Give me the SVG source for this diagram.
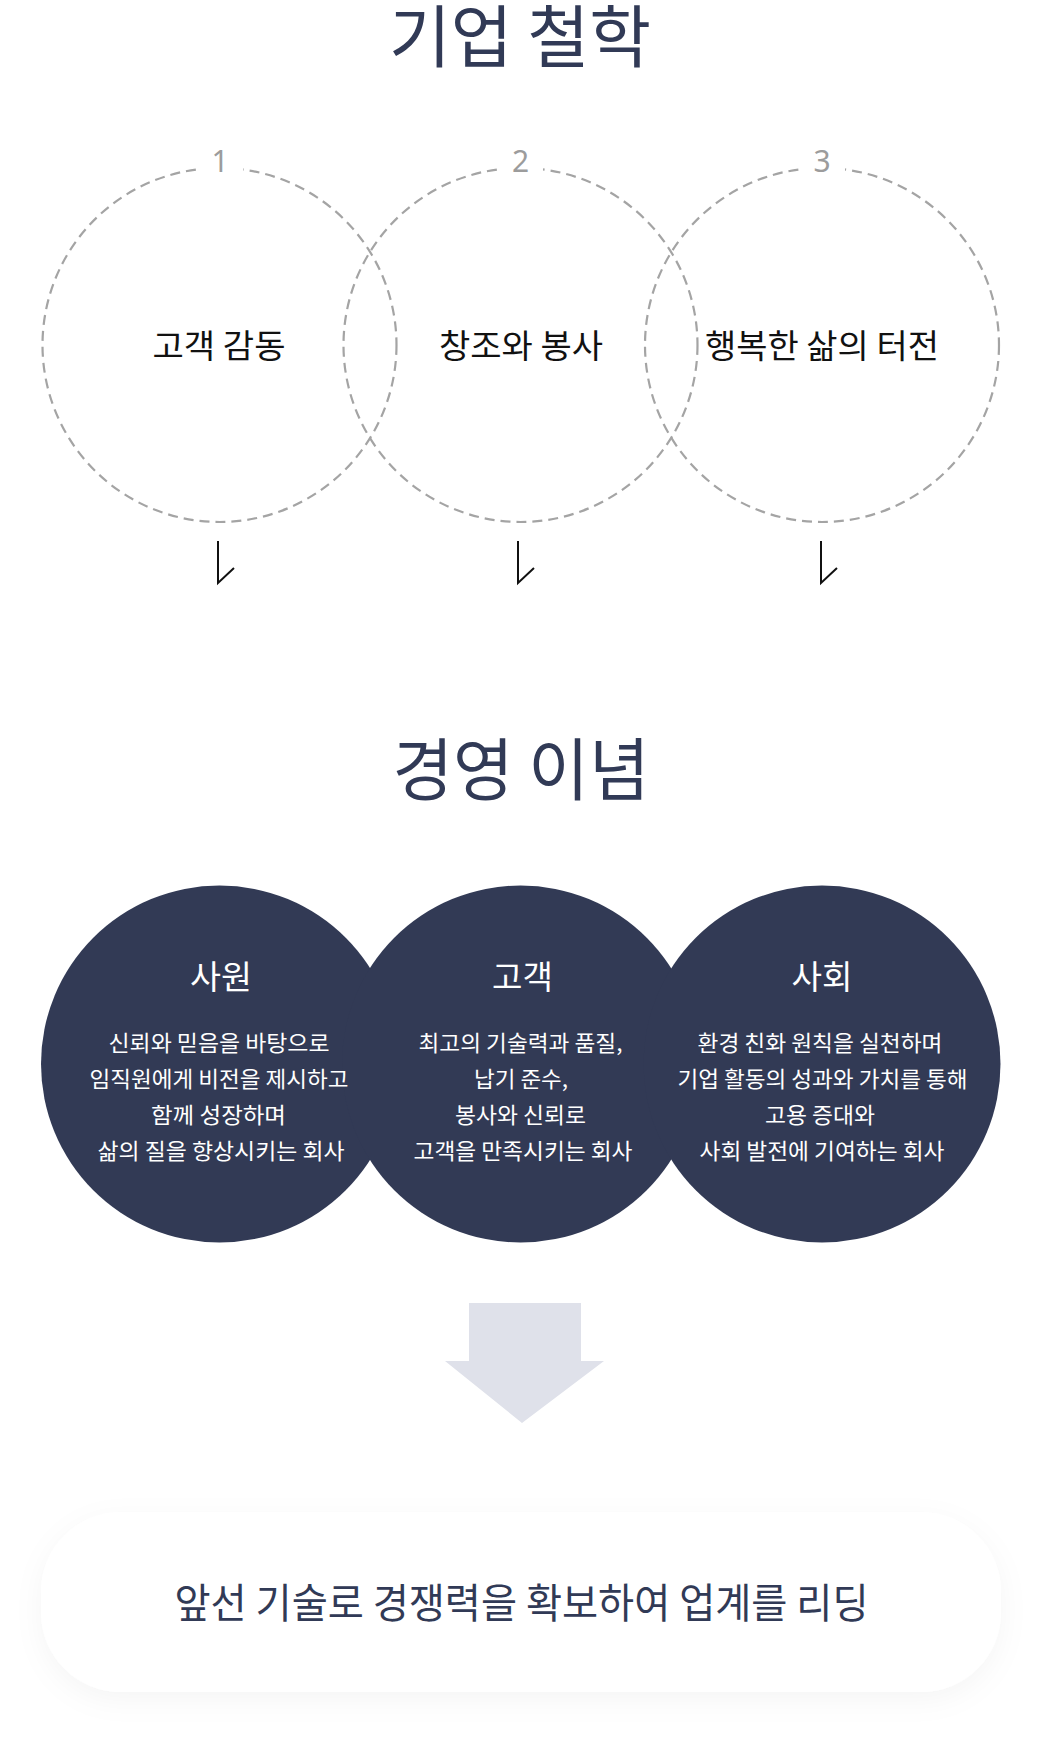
<svg xmlns="http://www.w3.org/2000/svg" width="1054" height="1756" viewBox="0 0 1054 1756">
  <style>
    text { font-family: "Noto Sans CJK KR", "Noto Sans", sans-serif; font-weight: 400; text-anchor: middle; }
    .title { font-size: 68px; fill: #313a56; }
    .dash { fill: none; stroke: #a4a4a4; stroke-width: 2.2; stroke-dasharray: 10 6; }
    .num { font-family: "Noto Sans", sans-serif; font-size: 30px; fill: #9c9c9c; }
    .lab { font-size: 33px; fill: #111111; }
    .navy { fill: #323a55; }
    .ctitle { font-size: 33px; fill: #ffffff; }
    .body { font-size: 22px; fill: #ffffff; }
    .bigarrow { fill: #dfe1ea; }
    .tick { fill: none; stroke: #111111; stroke-width: 2; }
    .mission { font-size: 41px; fill: #313a56; }
  </style>
  <defs>
    <filter id="soft" x="-10%" y="-40%" width="120%" height="180%">
      <feDropShadow dx="0" dy="8" stdDeviation="14" flood-color="#000000" flood-opacity="0.04"/>
    </filter>
  </defs>
  <rect width="1054" height="1756" fill="#ffffff"/>

  <g id="title-philosophy">
    <text class="title" x="520" y="62" textLength="262" lengthAdjust="spacingAndGlyphs">기업 철학</text>
  </g>

  <g id="node-p1">
    <circle class="dash" cx="219.5" cy="345" r="177"/>
    <rect x="198" y="148" width="45" height="30" fill="#ffffff"/>
    <text class="num" x="220" y="172">1</text>
    <text class="lab" x="219" y="358" textLength="133" lengthAdjust="spacingAndGlyphs">고객 감동</text>
  </g>
  <g id="node-p2">
    <circle class="dash" cx="520.5" cy="345" r="177"/>
    <rect x="498" y="148" width="45" height="30" fill="#ffffff"/>
    <text class="num" x="520.5" y="172">2</text>
    <text class="lab" x="521" y="358" textLength="164" lengthAdjust="spacingAndGlyphs">창조와 봉사</text>
  </g>
  <g id="node-p3">
    <circle class="dash" cx="822" cy="345" r="177"/>
    <rect x="800" y="148" width="45" height="30" fill="#ffffff"/>
    <text class="num" x="822" y="172">3</text>
    <text class="lab" x="822" y="358" textLength="234" lengthAdjust="spacingAndGlyphs">행복한 삶의 터전</text>
  </g>

  <g id="title-management">
    <text class="title" x="521" y="795" textLength="257" lengthAdjust="spacingAndGlyphs">경영 이념</text>
  </g>

  <g id="node-m1">
    <circle class="navy" cx="219.5" cy="1064" r="178.5"/>
  </g>
  <g id="node-m2">
    <circle class="navy" cx="520.5" cy="1064" r="178.5"/>
  </g>
  <g id="node-m3">
    <circle class="navy" cx="822" cy="1064" r="178.5"/>
  </g>
  <g id="labels-m1">
    <text class="ctitle" x="221" y="989" textLength="62" lengthAdjust="spacingAndGlyphs">사원</text>
    <text class="body" x="219" y="1051" textLength="221" lengthAdjust="spacingAndGlyphs">신뢰와 믿음을 바탕으로</text>
    <text class="body" x="219" y="1087" textLength="259" lengthAdjust="spacingAndGlyphs">임직원에게 비전을 제시하고</text>
    <text class="body" x="218.5" y="1123" textLength="135" lengthAdjust="spacingAndGlyphs">함께 성장하며</text>
    <text class="body" x="221" y="1159" textLength="247" lengthAdjust="spacingAndGlyphs">삶의 질을 향상시키는 회사</text>
  </g>
  <g id="labels-m2">
    <text class="ctitle" x="522.5" y="989" textLength="61" lengthAdjust="spacingAndGlyphs">고객</text>
    <text class="body" x="520.5" y="1051" textLength="204" lengthAdjust="spacingAndGlyphs">최고의 기술력과 품질,</text>
    <text class="body" x="521" y="1087" textLength="94" lengthAdjust="spacingAndGlyphs">납기 준수,</text>
    <text class="body" x="520.5" y="1123" textLength="131" lengthAdjust="spacingAndGlyphs">봉사와 신뢰로</text>
    <text class="body" x="523" y="1159" textLength="219" lengthAdjust="spacingAndGlyphs">고객을 만족시키는 회사</text>
  </g>
  <g id="labels-m3">
    <text class="ctitle" x="822" y="989" textLength="61" lengthAdjust="spacingAndGlyphs">사회</text>
    <text class="body" x="820" y="1051" textLength="245" lengthAdjust="spacingAndGlyphs">환경 친화 원칙을 실천하며</text>
    <text class="body" x="822.5" y="1087" textLength="290" lengthAdjust="spacingAndGlyphs">기업 활동의 성과와 가치를 통해</text>
    <text class="body" x="820" y="1123" textLength="110" lengthAdjust="spacingAndGlyphs">고용 증대와</text>
    <text class="body" x="822" y="1159" textLength="245" lengthAdjust="spacingAndGlyphs">사회 발전에 기여하는 회사</text>
  </g>

  <g id="connectors">
    <path class="tick" d="M218,541 V583 L234,568"/>
    <path class="tick" d="M518,541 V583 L534,568"/>
    <path class="tick" d="M821,541 V583 L837,568"/>
    <path class="bigarrow" d="M469,1303 H581 V1361 H604 L522,1423 L445,1361 H469 Z"/>
  </g>

  <g id="node-mission">
    <rect x="41" y="1512" width="960" height="180" rx="80" ry="80" fill="#ffffff" filter="url(#soft)"/>
    <text class="mission" x="521.5" y="1618" textLength="694" lengthAdjust="spacingAndGlyphs">앞선 기술로 경쟁력을 확보하여 업계를 리딩</text>
  </g>
</svg>
